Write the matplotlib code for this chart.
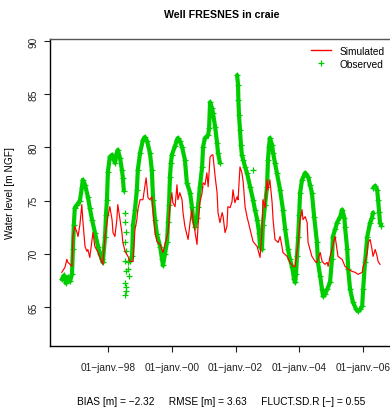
import numpy as np
import matplotlib
matplotlib.use("Agg")
import matplotlib.pyplot as plt
from matplotlib.lines import Line2D

plt.rcParams['font.family'] = ['Liberation Sans', 'DejaVu Sans']

# observed heads (decimal year, m NGF); None = gap in the record
obs_year = [1996.54, 1996.61, 1996.67, 1996.73, 1996.80, 1996.86, 1996.89, 1996.92, 1996.95, 1997.02,
            1997.11, 1997.17, 1997.20, 1997.27, 1997.36, 1997.42, 1997.49, 1997.58, 1997.68, 1997.74,
            1997.80, 1997.83, 1997.90, 1997.93, 1997.96, 1997.99, 1998.05, 1998.12, 1998.18, 1998.21,
            1998.27, 1998.30, 1998.37, 1998.43, 1998.46, 1998.49, None,
            1998.68, 1998.75, 1998.78, 1998.84, 1998.90, 1998.93, 1999.00, 1999.09, 1999.15, 1999.22,
            1999.31, 1999.37, 1999.41, 1999.47, 1999.53, 1999.63, 1999.69, 1999.72, 1999.78, 1999.85,
            1999.88, 1999.91, 1999.94, 1999.97, 2000.00, 2000.10, 2000.16, 2000.19, 2000.25, 2000.32,
            2000.41, 2000.47, 2000.57, 2000.63, 2000.66, 2000.73, 2000.79, 2000.82, 2000.88, 2000.95,
            2000.98, 2001.04, 2001.14, 2001.17, 2001.20, 2001.26, 2001.29, 2001.36, 2001.42, 2001.45,
            2001.51, None,
            2002.05, 2002.08, 2002.09, 2002.11, 2002.14, 2002.17, 2002.20, 2002.24, 2002.30, 2002.36,
            2002.46, 2002.55, 2002.61, 2002.68, 2002.74, 2002.77, 2002.83, 2002.86, 2002.93, 2002.99,
            2003.02, 2003.05, 2003.08, 2003.15, 2003.18, 2003.24, 2003.30, 2003.40, 2003.49, 2003.56,
            2003.65, 2003.71, 2003.78, 2003.84, 2003.87, 2003.90, 2003.93, 2003.97, 2004.00, 2004.03,
            2004.09, 2004.19, 2004.28, 2004.34, 2004.40, 2004.47, 2004.56, 2004.59, 2004.66, 2004.72,
            2004.75, 2004.81, 2004.88, 2004.97, 2005.03, 2005.06, 2005.13, 2005.19, 2005.29, 2005.35,
            2005.42, 2005.44, 2005.51, 2005.54, 2005.60, 2005.69, 2005.79, 2005.85, 2005.92, 2005.98,
            2006.01, 2006.07, 2006.14, 2006.23, 2006.29, 2006.32, None,
            2006.33, 2006.39, 2006.45, 2006.48, 2006.51, 2006.54, 2006.58]
obs_level = [67.59, 67.97, 67.22, 67.78, 67.41, 68.06, 70.40, 72.74, 74.33, 74.62,
             74.99, 76.21, 76.96, 76.49, 75.36, 74.33, 73.21, 71.99, 70.68, 69.93,
             69.47, 69.19, 71.62, 73.68, 75.08, 77.71, 79.11, 79.30, 78.83, 78.55,
             79.48, 79.77, 79.00, 77.89, 77.14, 75.93, None,
             69.28, 69.75, 72.74, 74.15, 76.02, 77.89, 79.48, 80.70, 80.98, 80.61,
             79.48, 77.89, 75.08, 73.21, 71.81, 70.68, 69.47, 68.90, 69.93, 71.15,
             73.02, 74.62, 77.24, 78.55, 79.30, 80.14, 80.70, 80.89, 80.61, 80.05,
             78.83, 76.68, 75.74, 74.43, 73.49, 72.56, 73.40, 74.43, 76.30, 78.17,
             80.05, 80.89, 81.17, 81.83, 84.26, 83.70, 83.23, 81.92, 80.42, 79.48,
             78.55, None,
             86.80, 85.85, 84.45, 83.04, 81.64, 80.23, 79.30, 78.83, 78.17, 77.61,
             76.30, 75.08, 74.15, 73.21, 71.99, 70.68, 70.40, 72.74, 74.62, 76.30,
             78.83, 80.05, 80.89, 80.23, 79.48, 78.55, 77.61, 76.02, 74.15, 72.28,
             70.40, 69.47, 68.72, 67.59, 67.31, 68.06, 69.75, 71.62, 73.68, 75.74,
             76.96, 77.61, 77.24, 76.49, 75.74, 73.49, 71.06, 69.19, 67.87, 66.66,
             66.00, 66.19, 66.66, 67.31, 69.47, 71.62, 72.28, 72.93, 73.49, 74.15,
             73.40, 72.56, 70.40, 68.53, 66.66, 65.44, 64.78, 64.59, 64.78, 65.07,
             66.66, 69.19, 71.62, 72.93, 73.40, 73.87, None,
             76.21, 76.39, 76.02, 75.08, 73.96, 72.93, 72.65]

# scattered single observations
obs_pt_year = [1998.53, 1998.53, 1998.56, 1998.53, 1998.56, 1998.53, 1998.56, 1998.56, 1998.53,
               1998.56, 1998.53, 1998.62, 1998.62, 1998.65, 2002.55]
obs_pt_level = [73.87, 73.02, 72.09, 71.15, 70.22, 69.28, 68.34, 66.85, 67.22,
                66.47, 66.10, 69.19, 68.53, 67.87, 77.89]

# simulated heads
sim_year = [1996.54, 1996.64, 1996.70, 1996.73, 1996.80, 1996.86, 1996.89, 1996.95, 1997.02, 1997.05,
            1997.11, 1997.17, 1997.20, 1997.27, 1997.33, 1997.36, 1997.42, 1997.49, 1997.52, 1997.58,
            1997.68, 1997.74, 1997.80, 1997.83, 1997.90, 1997.99, 1998.05, 1998.12, 1998.15, 1998.21,
            1998.27, 1998.30, 1998.37, 1998.43, 1998.46, 1998.53, 1998.62, 1998.68, 1998.78, 1998.84,
            1998.90, 1998.93, 1999.00, 1999.09, 1999.19, 1999.25, 1999.31, 1999.37, 1999.41, 1999.47,
            1999.53, 1999.63, 1999.72, 1999.78, 1999.88, 1999.94, 2000.00, 2000.03, 2000.10, 2000.16,
            2000.19, 2000.25, 2000.32, 2000.35, 2000.41, 2000.51, 2000.57, 2000.63, 2000.66, 2000.73,
            2000.79, 2000.82, 2000.88, 2000.95, 2000.98, 2001.04, 2001.10, 2001.14, 2001.20, 2001.26,
            2001.29, 2001.36, 2001.42, 2001.45, 2001.51, 2001.58, 2001.61, 2001.67, 2001.73, 2001.76,
            2001.83, 2001.89, 2001.92, 2001.98, 2002.05, 2002.08, 2002.14, 2002.20, 2002.24, 2002.30,
            2002.36, 2002.46, 2002.55, 2002.68, 2002.77, 2002.83, 2002.86, 2002.93, 2002.99, 2003.02,
            2003.08, 2003.15, 2003.18, 2003.24, 2003.34, 2003.40, 2003.46, 2003.49, 2003.62, 2003.71,
            2003.81, 2003.87, 2003.97, 2004.03, 2004.09, 2004.12, 2004.19, 2004.25, 2004.28, 2004.34,
            2004.40, 2004.50, 2004.56, 2004.59, 2004.66, 2004.72, 2004.75, 2004.81, 2004.88, 2004.91,
            2004.97, 2005.03, 2005.13, 2005.19, 2005.22, 2005.35, 2005.44, 2005.54, 2005.66, 2005.76,
            2005.85, 2005.98, 2006.01, 2006.07, 2006.14, 2006.17, 2006.23, 2006.29, 2006.32, 2006.39,
            2006.45, 2006.48, 2006.54]
sim_level = [68.25, 68.72, 69.47, 69.19, 69.00, 68.81, 71.62, 72.56, 71.99, 71.62,
             72.74, 74.62, 73.21, 70.68, 70.22, 70.40, 69.65, 71.34, 71.99, 70.68,
             70.12, 69.65, 69.19, 69.00, 71.62, 73.49, 74.43, 73.21, 71.99, 71.62,
             73.21, 74.62, 73.21, 71.99, 71.06, 70.22, 69.75, 69.28, 69.28, 72.28,
             73.21, 74.15, 75.08, 75.08, 77.14, 75.27, 75.08, 75.36, 73.87, 71.99,
             71.15, 70.87, 70.12, 70.87, 71.99, 74.43, 75.74, 74.80, 74.43, 76.49,
             75.08, 75.74, 75.08, 73.87, 72.56, 71.34, 72.93, 74.15, 73.21, 71.99,
             70.87, 72.56, 74.80, 75.74, 76.68, 76.49, 77.61, 76.30, 79.11, 79.30,
             79.30, 77.24, 75.74, 73.87, 72.93, 73.87, 73.49, 71.99, 72.56, 74.43,
             74.33, 74.90, 76.02, 74.80, 75.36, 75.08, 78.17, 77.61, 76.77, 74.43,
             73.49, 72.28, 71.15, 70.68, 69.65, 71.99, 75.08, 74.33, 76.96, 76.02,
             76.96, 74.80, 73.21, 71.34, 71.06, 71.62, 70.68, 70.12, 69.75, 69.19,
             68.81, 68.81, 71.06, 73.21, 74.15, 73.21, 73.49, 72.93, 71.06, 70.40,
             69.75, 69.28, 69.19, 69.47, 70.12, 69.28, 69.19, 69.00, 69.19, 68.81,
             69.75, 70.40, 71.62, 70.40, 69.75, 69.47, 68.81, 68.53, 68.34, 68.25,
             68.06, 68.25, 68.81, 69.19, 70.12, 71.06, 71.34, 70.40, 69.75, 70.40,
             69.75, 69.28, 69.00]

year_ticks = [1998, 2000, 2002, 2004, 2006]
year_labels = ['01\u2212janv.\u221298', '01\u2212janv.\u221200', '01\u2212janv.\u221202',
               '01\u2212janv.\u221204', '01\u2212janv.\u221206']
level_ticks = [65, 70, 75, 80, 85, 90]
stats_text = 'BIAS [m] = \u22122.32     RMSE [m] = 3.63     FLUCT.SD.R [\u2212] = 0.55'

green = '#00CD00'
red = '#FF0000'
fs = 7.3

oy = np.array([np.nan if v is None else v for v in obs_year], dtype=float)
ol = np.array([np.nan if v is None else v for v in obs_level], dtype=float)

fig = plt.figure(figsize=(3.9, 4.14), dpi=100)
W, H = 390, 414
ax = fig.add_axes([50 / W, 1 - 347 / H, 344 / W, 307 / H])

# dense daily record -> band of crosses
ax.plot(oy, ol, color=green, lw=3.0, solid_capstyle='round', zorder=2)
ax.plot(oy, ol, color=green, ls='none', marker='+', ms=5, mew=0.9, zorder=2)
ax.plot(obs_pt_year, obs_pt_level, color=green, ls='none', marker='+', ms=4, mew=0.9, zorder=2)
ax.plot(sim_year, sim_level, color=red, lw=0.85, zorder=3)

ax.set_xlim(1996.17, 2006.98)
ax.set_ylim(61.32, 90.2)
ax.set_xticks(year_ticks)
ax.set_xticklabels(year_labels)
ax.set_yticks(level_ticks)
ax.set_yticklabels([str(v) for v in level_ticks], rotation=90, va='center')
ax.tick_params(axis='both', direction='out', length=4.5, width=0.8, labelsize=fs, colors='#222222')
ax.tick_params(axis='x', pad=7)
ax.tick_params(axis='y', pad=4)
for s in ax.spines.values():
    s.set_linewidth(1.0)
    s.set_color('black')
ax.spines['top'].set_color('#555555')

ax.set_ylabel('Water level [m NGF]', fontsize=fs)
ax.yaxis.set_label_coords((15 - 50) / 344, 0.5)

fig.text(222 / W, 1 - 15 / H, 'Well FRESNES in craie', ha='center', va='center',
         fontsize=7.7, fontweight='bold')
fig.text(221 / W, 1 - 402 / H, stats_text, ha='center', va='center', fontsize=fs)

handles = [Line2D([], [], color=red, lw=1.0),
           Line2D([], [], color=green, ls='none', marker='+', ms=4, mew=0.9)]
fig.legend(handles, ['Simulated', 'Observed'], loc='upper left',
           bbox_to_anchor=(311 / W, 1 - 47 / H), frameon=False, fontsize=fs,
           handlelength=2.0, handletextpad=0.8, labelspacing=0.3, borderpad=0, borderaxespad=0)

fig.savefig('out.png', dpi=100)
